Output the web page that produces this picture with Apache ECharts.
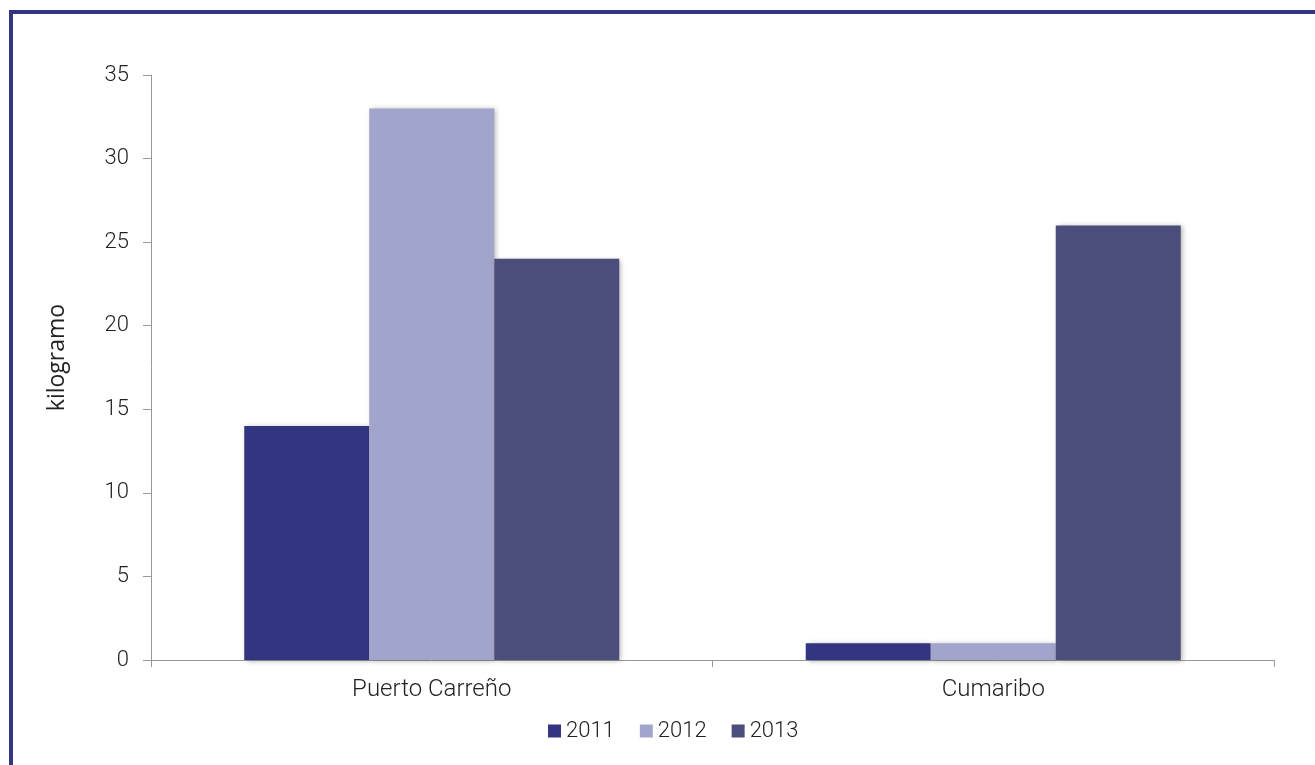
<!DOCTYPE html>
<html><head><meta charset="utf-8">
<script src="https://cdn.jsdelivr.net/npm/echarts@6/dist/echarts.min.js"></script>
<style>html,body{margin:0;padding:0;background:#fff}#c{width:1315px;height:765px}</style>
</head><body><div id="c"></div>
<script>
const categories = ['Puerto Carreño', 'Cumaribo'];
const seriesNames = ['2011', '2012', '2013'];
const v2011 = [14, 1];
const v2012 = [33, 1];
const v2013 = [24, 26];
const colors = ['#343580', '#A2A5CB', '#4B4D7A'];
const values = [v2011, v2012, v2013];
const font = 'Roboto, "Noto Sans", sans-serif';
const chart = echarts.init(document.getElementById('c'));
chart.setOption({
  animation: false,
  textStyle: {fontFamily: font},
  graphic: [
    {type: 'line', shape: {x1: 11, y1: 12, x2: 11, y2: 765}, style: {stroke: '#343580', lineWidth: 4}},
    {type: 'line', shape: {x1: 9, y1: 12, x2: 1315, y2: 12}, style: {stroke: '#343580', lineWidth: 4}}
  ],
  grid: {left: 151, right: 41, top: 75, bottom: 105},
  legend: {
    bottom: 23, left: 548, itemWidth: 13, itemHeight: 13, itemGap: 25,
    icon: 'rect', padding: 0,
    textStyle: {fontSize: 22, color: '#222', fontFamily: font, fontWeight: 300},
    data: seriesNames
  },
  xAxis: {
    type: 'category', data: categories,
    axisLine: {lineStyle: {color: '#999', width: 1}},
    axisTick: {show: true, length: 7, lineStyle: {color: '#999'}},
    axisLabel: {fontSize: 24, color: '#222', margin: 18, fontFamily: font, fontWeight: 300}
  },
  yAxis: {
    type: 'value', min: 0, max: 35, interval: 5,
    name: 'kilogramo', nameLocation: 'middle', nameGap: 82, nameRotate: 90,
    nameTextStyle: {fontSize: 23, color: '#222', fontFamily: '"Open Sans", sans-serif', padding: [0, 0, 0, 20]},
    axisLine: {show: true, lineStyle: {color: '#999', width: 1}},
    axisTick: {show: true, length: 8, lineStyle: {color: '#999'}},
    splitLine: {show: false},
    axisLabel: {fontSize: 22, color: '#222', margin: 22, fontFamily: font, fontWeight: 300}
  },
  series: seriesNames.map((n, i) => ({
    name: n, type: 'bar', data: values[i], barWidth: 125, barGap: '0%',
    itemStyle: {color: colors[i], shadowColor: 'rgba(0,0,0,0.3)', shadowBlur: 5, shadowOffsetX: 2, shadowOffsetY: 1}
  }))
});
</script></body></html>
